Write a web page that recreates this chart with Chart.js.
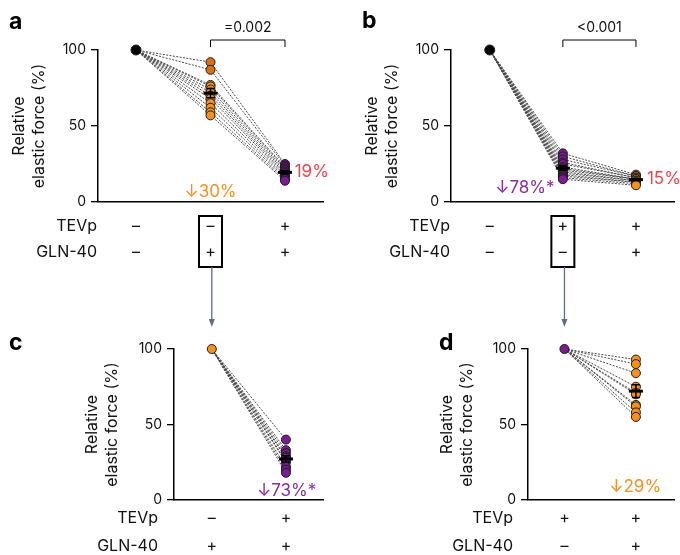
<!DOCTYPE html>
<html>
<head>
<meta charset="utf-8">
<script src="https://cdn.jsdelivr.net/npm/chart.js@4.4.1/dist/chart.umd.min.js"></script>
<style>
  body { margin: 0; background: #fff; width: 680px; height: 555px; position: relative; overflow: hidden; }
  canvas { position: absolute; }
</style>
</head>
<body>
<canvas id="pa" width="340" height="280" style="left:0;top:0"></canvas>
<canvas id="pb" width="340" height="280" style="left:340px;top:0"></canvas>
<canvas id="pc" width="340" height="293" style="left:0;top:262px"></canvas>
<canvas id="pd" width="340" height="293" style="left:340px;top:262px"></canvas>
<script>
// every trace is normalised to its own first condition
const baseline = 100;
const yTicks = [0, 50, 100];
const rowNames = ['TEVp', 'GLN-40'];

// a: none -> GLN-40 -> GLN-40 + TEVp
const aTEVp = ['–', '–', '+'];
const aGLN = ['–', '+', '+'];
const aGLNOnly = [92, 87, 77, 76, 74, 72, 70, 68, 65, 62, 59, 57];
const aBoth = [25, 24, 23, 22, 21, 20, 19, 18, 17, 16, 15, 14];

// b: none -> TEVp -> TEVp + GLN-40
const bTEVp = ['–', '+', '+'];
const bGLN = ['–', '–', '+'];
const bTEVpOnly = [32, 30, 28, 26, 25, 23, 22, 21, 20, 19, 18, 17, 16, 15];
const bBoth = [18, 17, 17, 16, 16, 15, 15, 15, 14, 14, 13, 13, 12, 11];

// c: GLN-40 -> + TEVp
const cTEVp = ['–', '+'];
const cGLN = ['+', '+'];
const cBoth = [40, 33, 31, 29, 28, 26, 25, 22, 20, 18];

// d: TEVp -> + GLN-40
const dTEVp = ['+', '+'];
const dGLN = ['–', '+'];
const dBoth = [93, 90, 84, 75, 71, 70, 63, 62, 58, 55];

const FONT = 'Inter';
const ORANGE = '#f7901e', ORANGE_DK = '#dd6f12', PURPLE = '#7b1c93', RED = '#f4414c', PURPLE_TXT = '#8a2aa8';

const panels = {
  pa: {
    letter: 'a', letterX: 9, letterY: 22,
    groups: [[baseline], aGLNOnly, aBoth],
    colors: ['#000', aGLNOnly.map((v, i) => i < 2 ? ORANGE_DK : ORANGE), PURPLE],
    radius: [5, 4.5, 4.5],
    rows: [aTEVp, aGLN], rowY: [24, 50], rowLabelX: 97,
    box: { idx: 1, top: 14, bottom: 65 },
    bracket: { from: 1, to: 2, text: '=0.002' },
    notes: [
      { text: '↓30%', color: ORANGE, x: 1, y: 6.6, align: 'center' },
      { text: '19%', color: RED, x: 2.13, y: 19.7, align: 'left' }
    ],
    xRange: [-0.51, 2.51], pad: { left: 0, top: 50, right: 17, bottom: 78 }, yWidth: 98, titlePad: 9
  },
  pb: {
    letter: 'b', letterX: 22, letterY: 21,
    groups: [[baseline], bTEVpOnly, bBoth],
    colors: ['#000', PURPLE, ORANGE],
    radius: [5, 4.5, 4.5],
    rows: [bTEVp, bGLN], rowY: [24, 50], rowLabelX: 110,
    box: { idx: 1, top: 14, bottom: 65 },
    bracket: { from: 1, to: 2, text: '<0.001' },
    notes: [
      { text: '↓78%*', color: PURPLE_TXT, x: 0.48, y: 9.2, align: 'center' },
      { text: '15%', color: RED, x: 2.15, y: 15.1, align: 'left' }
    ],
    xRange: [-0.53, 2.52], pad: { left: 0, top: 50, right: 0, bottom: 78 }, yWidth: 111, titlePad: 22
  },
  pc: {
    letter: 'c', letterX: 9, letterY: 81,
    groups: [[baseline], cBoth],
    colors: [ORANGE, PURPLE],
    radius: [4.5, 4.5],
    rows: [cTEVp, cGLN], rowY: [18, 46], rowLabelX: 158,
    arrow: { idx: 0, from: 5, to: 65 },
    notes: [
      { text: '↓73%*', color: PURPLE_TXT, x: 1.01, y: 6, align: 'center' }
    ],
    xRange: [-0.51, 1.5], pad: { left: 0, top: 87, right: 17, bottom: 55 }, yWidth: 174, titlePad: 82
  },
  pd: {
    letter: 'd', letterX: 99, letterY: 81,
    groups: [[baseline], dBoth],
    colors: [PURPLE, ORANGE],
    radius: [4.5, 4.5],
    rows: [dTEVp, dGLN], rowY: [18, 46], rowLabelX: 173,
    arrow: { idx: 0, from: 5, to: 65 },
    notes: [
      { text: '↓29%', color: ORANGE, x: 0.99, y: 8.6, align: 'center' }
    ],
    xRange: [-0.51, 1.54], pad: { left: 0, top: 87, right: 0, bottom: 55 }, yWidth: 188, titlePad: 97
  }
};

const panelPlugin = {
  id: 'panelDeco',
  afterDatasetsDraw(chart) {
    const p = panels[chart.canvas.id];
    const ctx = chart.ctx, xs = chart.scales.x, ys = chart.scales.y;
    const area = chart.chartArea;
    ctx.save();

    // mean +- sem for every non-baseline group
    p.groups.forEach((g, j) => {
      if (g.length < 2) return;
      const mean = g.reduce((s, v) => s + v, 0) / g.length;
      const sd = Math.sqrt(g.reduce((s, v) => s + (v - mean) ** 2, 0) / (g.length - 1));
      const sem = sd / Math.sqrt(g.length);
      const x = xs.getPixelForValue(j);
      const ym = ys.getPixelForValue(mean), y1 = ys.getPixelForValue(mean + sem), y2 = ys.getPixelForValue(mean - sem);
      ctx.strokeStyle = '#000';
      ctx.lineWidth = 1.5;
      ctx.beginPath();
      ctx.moveTo(x, y1); ctx.lineTo(x, y2);
      ctx.moveTo(x - 4, y1); ctx.lineTo(x + 4, y1);
      ctx.moveTo(x - 4, y2); ctx.lineTo(x + 4, y2);
      ctx.stroke();
      ctx.lineWidth = 3;
      ctx.beginPath();
      ctx.moveTo(x - 7, ym); ctx.lineTo(x + 7, ym);
      ctx.stroke();
    });

    // panel letter
    ctx.fillStyle = '#000';
    ctx.font = 'bold 23px ' + FONT;
    ctx.textAlign = 'left';
    ctx.textBaseline = 'middle';
    ctx.fillText(p.letter, p.letterX, p.letterY);

    // condition rows
    ctx.font = '16px ' + FONT;
    ctx.fillStyle = '#111';
    p.rows.forEach((signs, i) => {
      const y = area.bottom + p.rowY[i];
      ctx.textAlign = 'right';
      ctx.fillText(rowNames[i], p.rowLabelX, y);
      ctx.textAlign = 'center';
      signs.forEach((s, j) => ctx.fillText(s, xs.getPixelForValue(j), y));
    });

    if (p.box) {
      const x = xs.getPixelForValue(p.box.idx);
      ctx.strokeStyle = '#000';
      ctx.lineWidth = 2;
      ctx.strokeRect(x - 11.5, area.bottom + p.box.top, 23, p.box.bottom - p.box.top);
    }

    if (p.arrow) {
      const x = xs.getPixelForValue(p.arrow.idx);
      ctx.strokeStyle = '#5d6d84';
      ctx.fillStyle = '#5d6d84';
      ctx.lineWidth = 1.3;
      ctx.beginPath();
      ctx.moveTo(x, p.arrow.from); ctx.lineTo(x, p.arrow.to - 6);
      ctx.stroke();
      ctx.beginPath();
      ctx.moveTo(x - 3, p.arrow.to - 8);
      ctx.lineTo(x, p.arrow.to);
      ctx.lineTo(x + 3, p.arrow.to - 8);
      ctx.closePath();
      ctx.fill();
    }

    if (p.bracket) {
      const x1 = xs.getPixelForValue(p.bracket.from), x2 = xs.getPixelForValue(p.bracket.to);
      const yb = area.top - 10;
      ctx.strokeStyle = '#000';
      ctx.lineWidth = 1;
      ctx.beginPath();
      ctx.moveTo(x1, area.top - 3); ctx.lineTo(x1, yb); ctx.lineTo(x2, yb); ctx.lineTo(x2, area.top - 3);
      ctx.stroke();
      ctx.fillStyle = '#111';
      ctx.font = '14px ' + FONT;
      ctx.textAlign = 'center';
      ctx.fillText(p.bracket.text, (x1 + x2) / 2, area.top - 22);
    }

    ctx.font = '17px ' + FONT;
    p.notes.forEach(n => {
      ctx.fillStyle = n.color;
      ctx.textAlign = n.align;
      ctx.fillText(n.text, xs.getPixelForValue(n.x), ys.getPixelForValue(n.y));
    });
    ctx.restore();
  }
};

function buildPanel(id) {
  const p = panels[id];
  const subjects = p.groups[1];
  const datasets = [];
  subjects.forEach((v, i) => {
    datasets.push({
      data: p.groups.map((g, j) => ({ x: j, y: g.length > 1 ? g[i] : g[0] })),
      showLine: true,
      borderColor: '#4a4a4a',
      borderWidth: 1,
      borderDash: [2, 1.4],
      pointRadius: 0,
      order: 5,
      clip: false
    });
  });
  p.groups.forEach((g, j) => {
    datasets.push({
      data: g.map(v => ({ x: j, y: v })),
      pointRadius: p.radius[j],
      backgroundColor: p.colors[j],
      borderColor: '#1a1a1a',
      borderWidth: 1,
      order: 1,
      clip: false
    });
  });

  new Chart(document.getElementById(id), {
    type: 'scatter',
    data: { datasets },
    options: {
      responsive: false,
      animation: false,
      events: [],
      layout: { padding: p.pad },
      plugins: { legend: { display: false }, tooltip: { enabled: false } },
      scales: {
        x: {
          type: 'linear',
          min: p.xRange[0],
          max: p.xRange[1],
          ticks: { display: false },
          grid: { display: false },
          border: { display: true, color: '#000', width: 1.5 },
          afterFit: s => { s.height = 0; }
        },
        y: {
          min: 0,
          max: 100,
          afterBuildTicks: s => { s.ticks = yTicks.map(v => ({ value: v })); },
          ticks: { color: '#111', font: { family: FONT, size: 14 }, padding: 5 },
          grid: { display: true, drawOnChartArea: false, drawTicks: true, tickLength: 7, color: '#000', lineWidth: 1.3 },
          border: { display: true, color: '#000', width: 1.5 },
          title: {
            display: true,
            text: ['Relative', 'elastic force (%)'],
            color: '#111',
            font: { family: FONT, size: 16, lineHeight: 1.25 },
            padding: { top: p.titlePad, bottom: 0 }
          },
          afterFit: s => { s.width = p.yWidth; }
        }
      }
    },
    plugins: [panelPlugin]
  });
}

['pa', 'pb', 'pc', 'pd'].forEach(buildPanel);
</script>
</body>
</html>
